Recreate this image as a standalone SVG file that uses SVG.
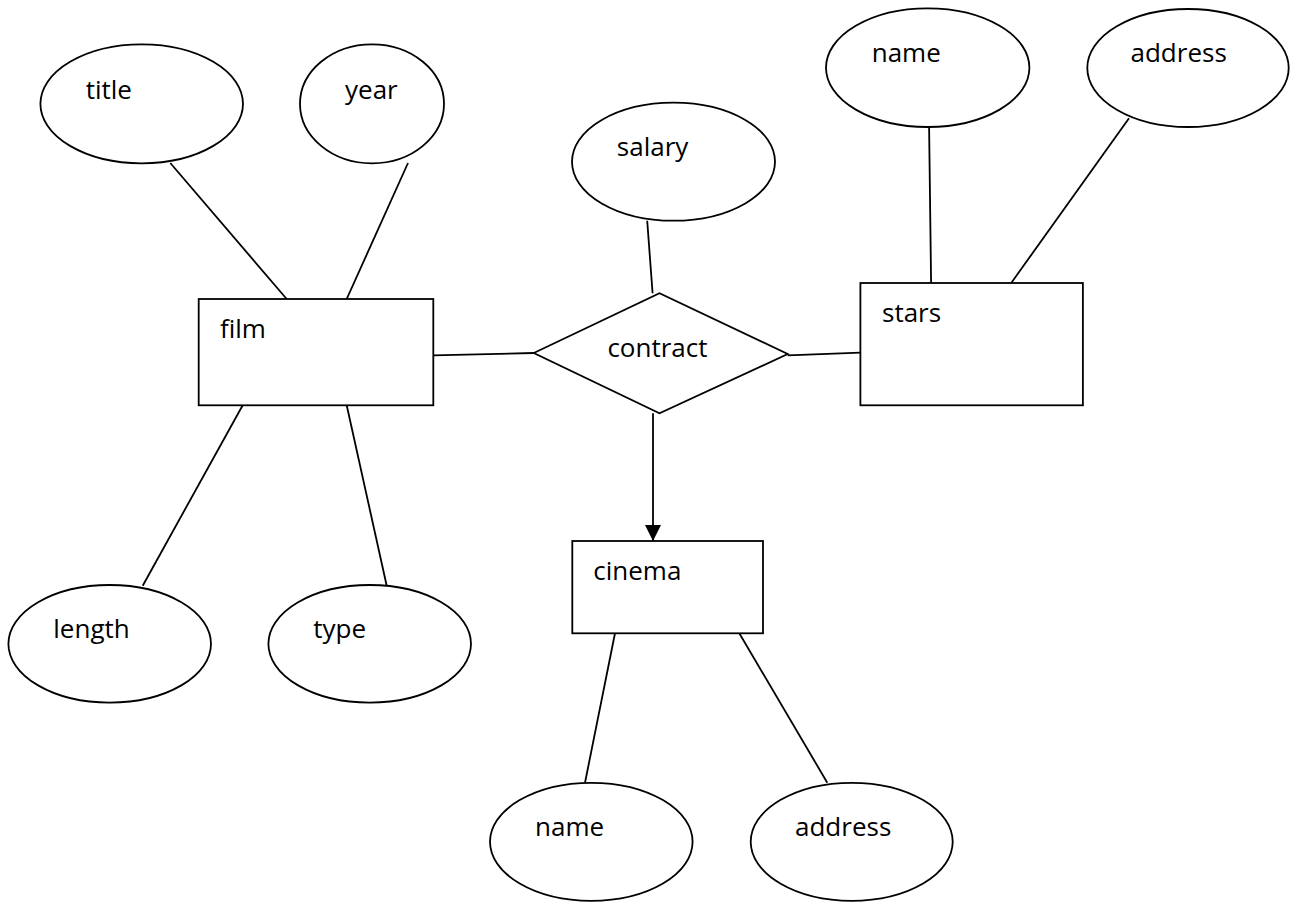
<svg xmlns="http://www.w3.org/2000/svg" width="1290" height="902" viewBox="0 0 1290 902">
<style>
.s{fill:#fff;stroke:#000;stroke-width:1.8}
.l{stroke:#000;stroke-width:1.8;fill:none}
.t{font-family:"Open Sans","Liberation Sans",sans-serif;font-size:26px;fill:#000}
</style>
<defs>
<marker id="arr" markerWidth="16" markerHeight="16" refX="15" refY="7.5" orient="auto" markerUnits="userSpaceOnUse" viewBox="0 0 15 15">
<path d="M0,0 L15,7.5 L0,15 Z" fill="#000"/>
</marker>
</defs>
<rect width="1290" height="902" fill="#fff"/>
<g id="connectors">
<line class="l" x1="170.3" y1="163" x2="286.7" y2="299"/>
<line class="l" x1="408" y1="163" x2="346.7" y2="299"/>
<line class="l" x1="242.7" y1="405.3" x2="142.7" y2="585.7"/>
<line class="l" x1="346.7" y1="405.3" x2="386.7" y2="585.7"/>
<line class="l" x1="433.3" y1="355.3" x2="533.8" y2="353"/>
<line class="l" x1="787.7" y1="355.3" x2="860.4" y2="352.7"/>
<line class="l" x1="647.2" y1="220.7" x2="652.6" y2="293.3"/>
<line class="l" x1="929.1" y1="127" x2="931.1" y2="283"/>
<line class="l" x1="1129" y1="118.3" x2="1011.2" y2="283"/>
<line class="l" x1="653" y1="413.3" x2="653" y2="541" marker-end="url(#arr)"/>
<line class="l" x1="615" y1="633.3" x2="585" y2="782.7"/>
<line class="l" x1="739.3" y1="633.3" x2="827.3" y2="782.7"/>
</g>
<g id="title"><ellipse class="s" cx="141.7" cy="103.8" rx="101.3" ry="59.5"/><text class="t" x="85.7" y="99">title</text></g>
<g id="year"><ellipse class="s" cx="372" cy="103.8" rx="72" ry="59.5"/><text class="t" x="345" y="99">year</text></g>
<g id="film"><rect class="s" x="198.7" y="299" width="234.6" height="106.3"/><text class="t" x="220" y="338">film</text></g>
<g id="length"><ellipse class="s" cx="109.7" cy="643.8" rx="101.3" ry="58.8"/><text class="t" x="53.3" y="637.7">length</text></g>
<g id="type"><ellipse class="s" cx="369.7" cy="643.8" rx="101.3" ry="58.8"/><text class="t" x="313.3" y="637.7">type</text></g>
<g id="salary"><ellipse class="s" cx="673.5" cy="161.7" rx="101.5" ry="59"/><text class="t" x="616.8" y="156">salary</text></g>
<g id="contract"><polygon class="s" points="533.8,353 659.5,293.3 787.7,354 659.5,413.3"/><text class="t" x="607.4" y="356.7">contract</text></g>
<g id="star_name"><ellipse class="s" cx="927.7" cy="67.7" rx="101.7" ry="59.3"/><text class="t" x="871.7" y="62">name</text></g>
<g id="star_address"><ellipse class="s" cx="1188" cy="68" rx="100.7" ry="59"/><text class="t" x="1130.5" y="62">address</text></g>
<g id="stars"><rect class="s" x="860.4" y="283" width="222.5" height="122.3"/><text class="t" x="882" y="321.7">stars</text></g>
<g id="cinema"><rect class="s" x="572.3" y="541" width="190.7" height="92.3"/><text class="t" x="593.3" y="580">cinema</text></g>
<g id="cinema_name"><ellipse class="s" cx="591.3" cy="841.8" rx="101.3" ry="59"/><text class="t" x="535" y="836">name</text></g>
<g id="cinema_address"><ellipse class="s" cx="851.7" cy="841.8" rx="101" ry="59"/><text class="t" x="795" y="836">address</text></g>
</svg>
